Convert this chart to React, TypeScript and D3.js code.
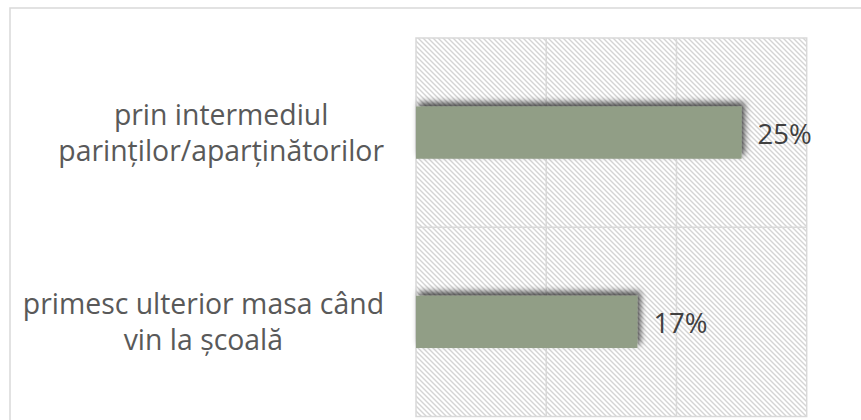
import React from 'react';
import * as d3 from 'd3';

const categoryLines: string[][] = [
  ["prin intermediul", "parinților/aparținătorilor"],
  ["primesc ulterior masa când", "vin la școală"],
];
const categoryKeys = ["c1", "c2"];
const values = [0.25, 0.17];
const valueLabels = ["25%", "17%"];
const xTicks = [0, 0.1, 0.2, 0.3];

const W = 861;
const H = 420;
const M = { left: 416, top: 38, right: 806.7, bottom: 416.5 };
const FONT = "'Open Sans', Lato, sans-serif";
const FS = 28.4;
const FS_VAL = 27.5;
const GRID = "#d9d9d9";

function textWidth(t: string): number {
  const ctx = document.createElement('canvas').getContext('2d');
  if (!ctx) return t.length * FS * 0.5;
  ctx.font = `${FS}px ${FONT}`;
  return ctx.measureText(t).width;
}

export default function App() {
  const x = d3.scaleLinear().domain([0, 0.3]).range([M.left, M.right]);
  const y = d3.scaleBand<string>().domain(categoryKeys).range([M.top, M.bottom]).padding(0);
  const bw = y.bandwidth();
  const barH = bw / 3.62;
  const labelRight = 384;

  return (
    <svg width={W} height={H} style={{ position: 'absolute', left: 0, top: 0, background: '#fff' }}>
      <defs>
        <pattern id="hatch" width="5" height="5" patternUnits="userSpaceOnUse">
          <rect width="5" height="5" fill="#ffffff" />
          <path d="M-1,-1 L6,6 M-4,1 L1,6 M1,-4 L6,1" stroke="#d4d4d4" strokeWidth="1.4" />
        </pattern>
        <filter id="shadow" x="-20%" y="-60%" width="140%" height="220%">
          <feDropShadow dx="3" dy="-4" stdDeviation="3" floodColor="#000" floodOpacity="0.7" />
        </filter>
      </defs>
      <rect x={10} y={8} width={W + 50} height={H + 50} fill="#fff" stroke={GRID} strokeWidth={1.5} />
      <rect x={M.left} y={M.top} width={M.right - M.left} height={M.bottom - M.top} fill="url(#hatch)" />
      {xTicks.slice(1, -1).map((t) => (
        <line key={t} x1={x(t)} x2={x(t)} y1={M.top} y2={M.bottom} stroke={GRID} strokeWidth={1.5} />
      ))}
      {categoryKeys.slice(1).map((k) => (
        <line key={k} x1={M.left} x2={M.right} y1={y(k)!} y2={y(k)!} stroke={GRID} strokeWidth={1.5} />
      ))}
      <rect x={M.left} y={M.top} width={M.right - M.left} height={M.bottom - M.top} fill="none" stroke={GRID} strokeWidth={1.5} />
      {values.map((v, i) => {
        const cy = y(categoryKeys[i])! + bw / 2;
        return (
          <rect key={i} x={x(0)} y={cy - barH / 2} width={x(v) - x(0)} height={barH} fill="#919e86" filter="url(#shadow)" />
        );
      })}
      {values.map((v, i) => {
        const cy = y(categoryKeys[i])! + bw / 2;
        return (
          <text key={i} x={x(v) + 16} y={cy + 11} fontFamily={FONT} fontSize={FS_VAL} fill="#404040">
            {valueLabels[i]}
          </text>
        );
      })}
      {categoryLines.map((lines, i) => {
        const cy = y(categoryKeys[i])! + bw / 2;
        const maxW = Math.max(...lines.map(textWidth));
        const cx = labelRight - maxW / 2;
        return (
          <text key={i} fontFamily={FONT} fontSize={FS} fill="#595959" textAnchor="middle">
            {lines.map((l, j) => (
              <tspan key={j} x={cx} y={cy - 8 + j * 36}>{l}</tspan>
            ))}
          </text>
        );
      })}
    </svg>
  );
}
